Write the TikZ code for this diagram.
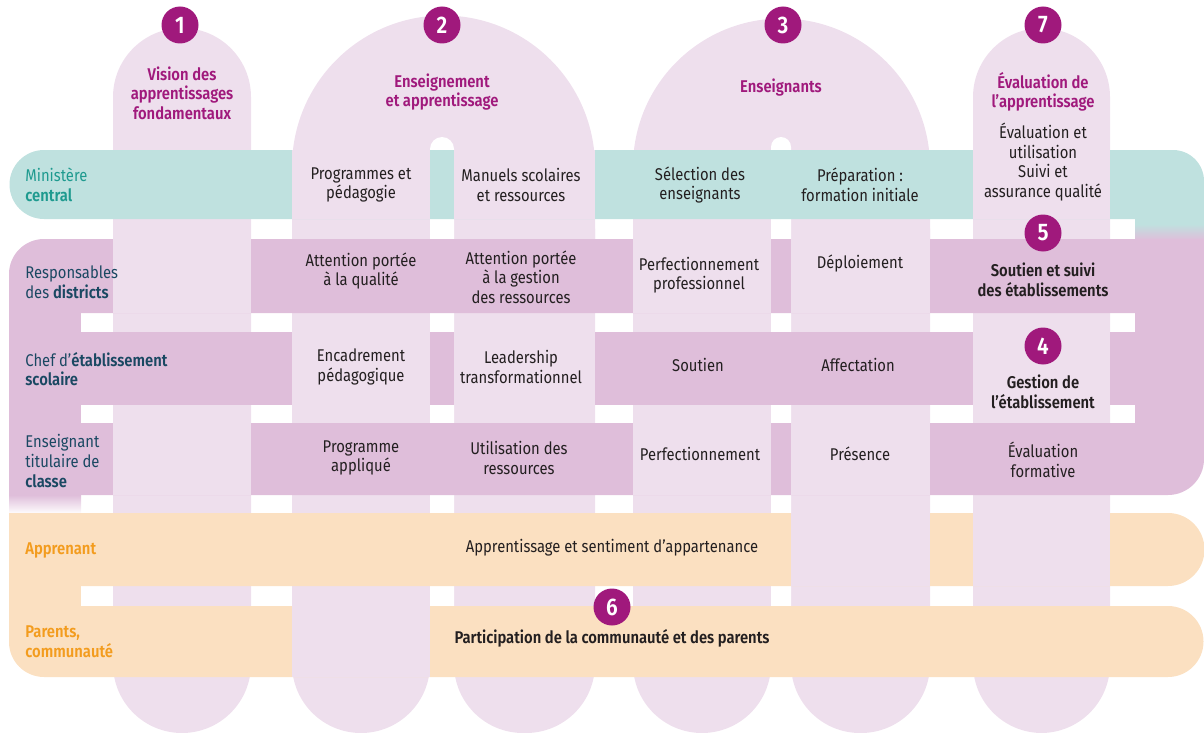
\documentclass[tikz,border=0pt]{standalone}
\usepackage{fontspec}
\setmainfont{Fira Sans}[FakeStretch=0.87, BoldFont={Fira Sans SemiBold}]
\usepackage{tikz}
\usetikzlibrary{shapes}
\usetikzlibrary{positioning}
\definecolor{colfill}{RGB}{238,223,237}
\definecolor{rowpurple}{RGB}{223,190,218}
\definecolor{rowteal}{RGB}{191,225,223}
\definecolor{rowpeach}{RGB}{251,224,193}
\definecolor{plum}{RGB}{160,25,124}
\definecolor{ink}{RGB}{35,31,32}
\definecolor{tealtext}{RGB}{30,154,143}
\definecolor{navytext}{RGB}{26,72,98}
\definecolor{orangetext}{RGB}{243,156,30}
\newcommand{\cellfont}{\fontsize{8.5}{9.8}\selectfont}
\newcommand{\badgefont}{\fontsize{12}{12}\selectfont\bfseries}
\tikzstyle{cell} = [align=center, font=\cellfont, text=ink, inner sep=0pt]
\tikzstyle{head} = [align=center, font=\cellfont\bfseries, text=plum, inner sep=0pt]
\tikzstyle{rowlabel} = [anchor=west, align=left, font=\cellfont, inner sep=0pt]
\tikzstyle{badge} = [circle, fill=plum, text=white, font=\badgefont, minimum size=18.5pt, inner sep=0pt]

\begin{document}
\begin{tikzpicture}[x=0.5pt, y=-0.5pt]
\useasboundingbox (0, 0) rectangle (1204, 733);
\fill [colfill, rounded corners=34.5pt] (113, 28) rectangle (251, 733);
\fill [colfill, rounded corners=34.5pt] (973, 28) rectangle (1110, 733);
\fill [colfill] (292, 167) arc [start angle=180, end angle=0, radius=75.75pt] -- (595, 240) -- (292, 240) -- cycle;
\fill [colfill, rounded corners=34.5pt] (292, 160) rectangle (430, 733);
\fill [colfill, rounded corners=34.5pt] (454, 160) rectangle (595, 733);
\fill [colfill] (633, 167) arc [start angle=180, end angle=0, radius=74.25pt] -- (930, 240) -- (633, 240) -- cycle;
\fill [colfill, rounded corners=34.5pt] (633, 160) rectangle (771, 733);
\fill [colfill, rounded corners=34.5pt] (791, 160) rectangle (930, 733);
\fill [white, rounded corners=6pt] (430, 137) rectangle (454, 760);
\fill [white, rounded corners=5pt] (771, 137) rectangle (791, 760);

\fill [rowteal] (44, 150) -- (1173, 150) arc [start angle=90, end angle=0, radius=15.5pt] -- (1204, 240) -- (1135, 240) -- (1135, 219) -- (44, 219) arc [start angle=270, end angle=90, radius=17.25pt] -- cycle;
\shade [top color=rowteal, bottom color=rowpurple] (1135, 224) rectangle (1204, 240);
\fill [rowpurple] (9, 313) -- (9, 274) arc [start angle=180, end angle=90, radius=17.5pt] -- (1204, 239) -- (1204, 313) -- cycle;
\fill [rowpurple] (9, 300) rectangle (81, 440);
\fill [rowpurple] (1135, 300) rectangle (1204, 440);
\fill [rowpurple] (9, 332) rectangle (1204, 405);
\fill [rowpurple] (9, 423) -- (1204, 423) -- (1204, 459) arc [start angle=0, end angle=-90, radius=18pt] -- (9, 495) -- cycle;
\shade [top color=rowpurple, bottom color=white] (9, 495) rectangle (81, 514);
\fill [rowpeach] (9, 513) -- (1168, 513) arc [start angle=90, end angle=-90, radius=18.25pt] -- (9, 586) -- cycle;
\fill [rowpeach] (9, 580) rectangle (81, 612);
\fill [rowpeach] (9, 606) -- (1168, 606) arc [start angle=90, end angle=-90, radius=17.75pt] -- (44, 677) arc [start angle=270, end angle=180, radius=17.5pt] -- cycle;

\foreach \xa/\xb/\ya/\yb in {292/430/150/219, 454/595/150/219, 973/1110/150/219,
  113/251/239/313, 633/771/239/313, 791/930/239/313,
  292/430/332/405, 454/595/332/405, 973/1110/332/405,
  113/251/423/495, 633/771/423/495, 791/930/423/495,
  791/930/513/586, 973/1110/513/586, 292/430/606/677}
  \fill [colfill] (\xa, \ya) rectangle (\xb, \yb);

\node [badge] (B1) at (180, 25) {1};
\node [badge] (B2) at (442, 25) {2};
\node [badge] (B3) at (783, 25) {3};
\node [badge] (B7) at (1043, 25) {7};
\node [badge] (B5) at (1043, 233) {5};
\node [badge] (B4) at (1043, 346) {4};
\node [badge] (B6) at (612, 607) {6};

\node [head] (vision) at (182, 93) {Vision des\\apprentissages\\fondamentaux};
\node [head] (enseignement) at (442, 92) {Enseignement\\et apprentissage};
\node [head] (enseignants) at (781, 88) {Enseignants};
\node [head] (evaluation) at (1043, 92) {Évaluation de\\l’apprentissage};
\node [cell] (suivi) at (1043, 162) {Évaluation et\\utilisation\\Suivi et\\assurance qualité};

\node [rowlabel, text=tealtext] (ministere) at (25, 185) {Ministère\\\textbf{central}};
\node [rowlabel, text=navytext] (districts) at (25, 282) {Responsables\\des \textbf{districts}};
\node [rowlabel, text=navytext] (chef) at (25, 369) {Chef d’\textbf{établissement}\\\textbf{scolaire}};
\node [rowlabel, text=navytext] (titulaire) at (25, 461) {Enseignant\\titulaire de\\\textbf{classe}};
\node [rowlabel, text=orangetext, font=\cellfont\bfseries] (apprenant) at (25, 550) {Apprenant};
\node [rowlabel, text=orangetext, font=\cellfont\bfseries] (parents) at (25, 642) {Parents,\\communauté};

\node [cell] (programmes) at (361, 185) {Programmes et\\pédagogie};
\node [cell] (manuels) at (521, 185) {Manuels scolaires\\et ressources};
\node [cell] (selection) at (700, 185) {Sélection des\\enseignants};
\node [cell] (preparation) at (860, 185) {Préparation :\\formation initiale};

\node [cell] (qualite) at (361, 271) {Attention portée\\à la qualité};
\node [cell] (gestion) at (521, 277) {Attention portée\\à la gestion\\des ressources};
\node [cell] (perfpro) at (699, 275) {Perfectionnement\\professionnel};
\node [cell] (deploiement) at (860, 264) {Déploiement};
\node [cell, font=\cellfont\bfseries] (soutiensuivi) at (1043, 280) {Soutien et suivi\\des établissements};

\node [cell] (encadrement) at (361, 367) {Encadrement\\pédagogique};
\node [cell] (leadership) at (521, 367) {Leadership\\transformationnel};
\node [cell] (soutien) at (698, 365) {Soutien};
\node [cell] (affectation) at (858, 365) {Affectation};
\node [cell, font=\cellfont\bfseries] (gestionetab) at (1043, 392) {Gestion de\\l’établissement};

\node [cell] (applique) at (361, 458) {Programme\\appliqué};
\node [cell] (utilisation) at (519, 458) {Utilisation des\\ressources};
\node [cell] (perf) at (700, 454) {Perfectionnement};
\node [cell] (presence) at (860, 454) {Présence};
\node [cell] (formative) at (1043, 460) {Évaluation\\formative};

\node [cell] (appartenance) at (612, 548) {Apprentissage et sentiment d’appartenance};
\node [cell, font=\cellfont\bfseries] (participation) at (612, 638) {Participation de la communauté et des parents};
\end{tikzpicture}
\end{document}
